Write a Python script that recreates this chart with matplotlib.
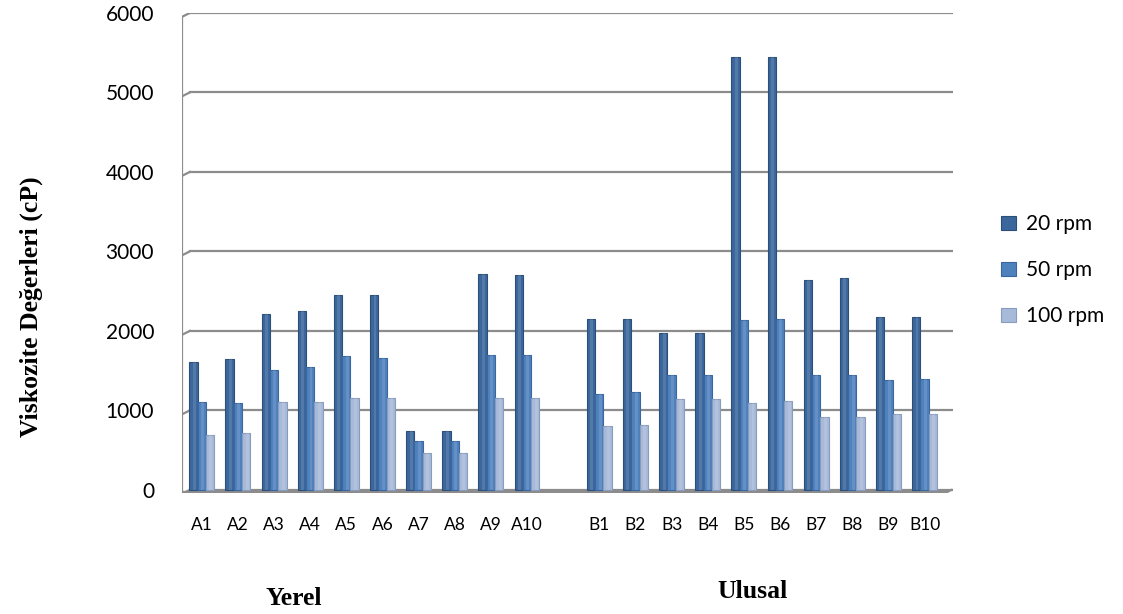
import numpy as np
import matplotlib.pyplot as plt

categories = ['A1', 'A2', 'A3', 'A4', 'A5', 'A6', 'A7', 'A8', 'A9', 'A10',
              '',
              'B1', 'B2', 'B3', 'B4', 'B5', 'B6', 'B7', 'B8', 'B9', 'B10']
rpm20 = [1610, 1640, 2210, 2250, 2450, 2450, 740, 740, 2710, 2700,
         np.nan,
         2150, 2150, 1975, 1975, 5440, 5450, 2640, 2670, 2170, 2180]
rpm50 = [1100, 1090, 1510, 1540, 1680, 1660, 610, 610, 1700, 1700,
         np.nan,
         1210, 1225, 1450, 1450, 2140, 2150, 1440, 1450, 1380, 1390]
rpm100 = [690, 710, 1110, 1110, 1160, 1160, 460, 460, 1150, 1150,
          np.nan,
          800, 810, 1140, 1140, 1090, 1120, 915, 915, 960, 960]
series_names = ['20 rpm', '50 rpm', '100 rpm']
yticks = [0, 1000, 2000, 3000, 4000, 5000, 6000]

colors = ['#3b679c', '#4f81bd', '#a8bad9']
edges = ['#2c4f7a', '#3b67a0', '#8a9cbd']

fig = plt.figure(figsize=(11.23, 6.14), dpi=100)
ax = fig.add_axes([0.162, 0.197, 0.687, 0.782])

x = np.arange(len(categories))
bw = 0.23
grid_c = '#8c8c8c'
dx, dy = 0.22, 50

# back wall gridlines with a short slanted end at the left wall
for v in yticks:
    ax.plot([-0.55, -0.55 + dx], [v - dy, v], color=grid_c, lw=1.6, zorder=1)
    ax.plot([-0.55 + dx, 20.75], [v, v], color=grid_c, lw=1.6, zorder=1)
# left wall and floor
ax.plot([-0.55, -0.55], [-30, 6000 - dy], color=grid_c, lw=1.6, zorder=1)
ax.plot([-0.55, 20.6], [-30, -30], color=grid_c, lw=2.4, zorder=1)
ax.plot([20.6, 20.75], [-30, 0], color=grid_c, lw=1.6, zorder=1)

for i, vals in enumerate([rpm20, rpm50, rpm100]):
    pos = x + (i - 1) * bw
    ax.bar(pos, vals, width=bw, color=colors[i], edgecolor=edges[i],
           linewidth=0.8, zorder=3 + i, label=series_names[i])
    # lighter strip for a rounded look
    ax.bar(pos + bw * 0.1, vals, width=bw * 0.35, color='white', alpha=0.12,
           linewidth=0, zorder=3 + i)

ax.set_xlim(-0.55, 20.8)
ax.set_ylim(-40, 6000)
for s in ax.spines.values():
    s.set_visible(False)
ax.set_xticks(x)
ax.set_xticklabels(categories, fontsize=12.5, family='Lato')
ax.set_yticks(yticks)
ax.set_yticklabels([str(v) for v in yticks], fontsize=15, family='Lato')
ax.tick_params(axis='both', length=0)
ax.tick_params(axis='x', pad=17)
ax.tick_params(axis='y', pad=20)

fig.text(0.028, 0.5, 'Viskozite Değerleri (cP)', rotation=90, ha='center',
         va='center', fontsize=18.5, fontweight='bold', family='Liberation Serif')
fig.text(0.262, 0.025, 'Yerel', ha='center', va='center', fontsize=18.5,
         fontweight='bold', family='Liberation Serif')
fig.text(0.67, 0.037, 'Ulusal', ha='center', va='center', fontsize=18.5,
         fontweight='bold', family='Liberation Serif')

fig.legend(loc='center left', bbox_to_anchor=(0.875, 0.56), frameon=False,
           prop={'family': 'Lato', 'size': 15}, handlelength=0.7,
           handleheight=0.7, labelspacing=1.25, handletextpad=0.5)

fig.savefig('out.png', dpi=100)
